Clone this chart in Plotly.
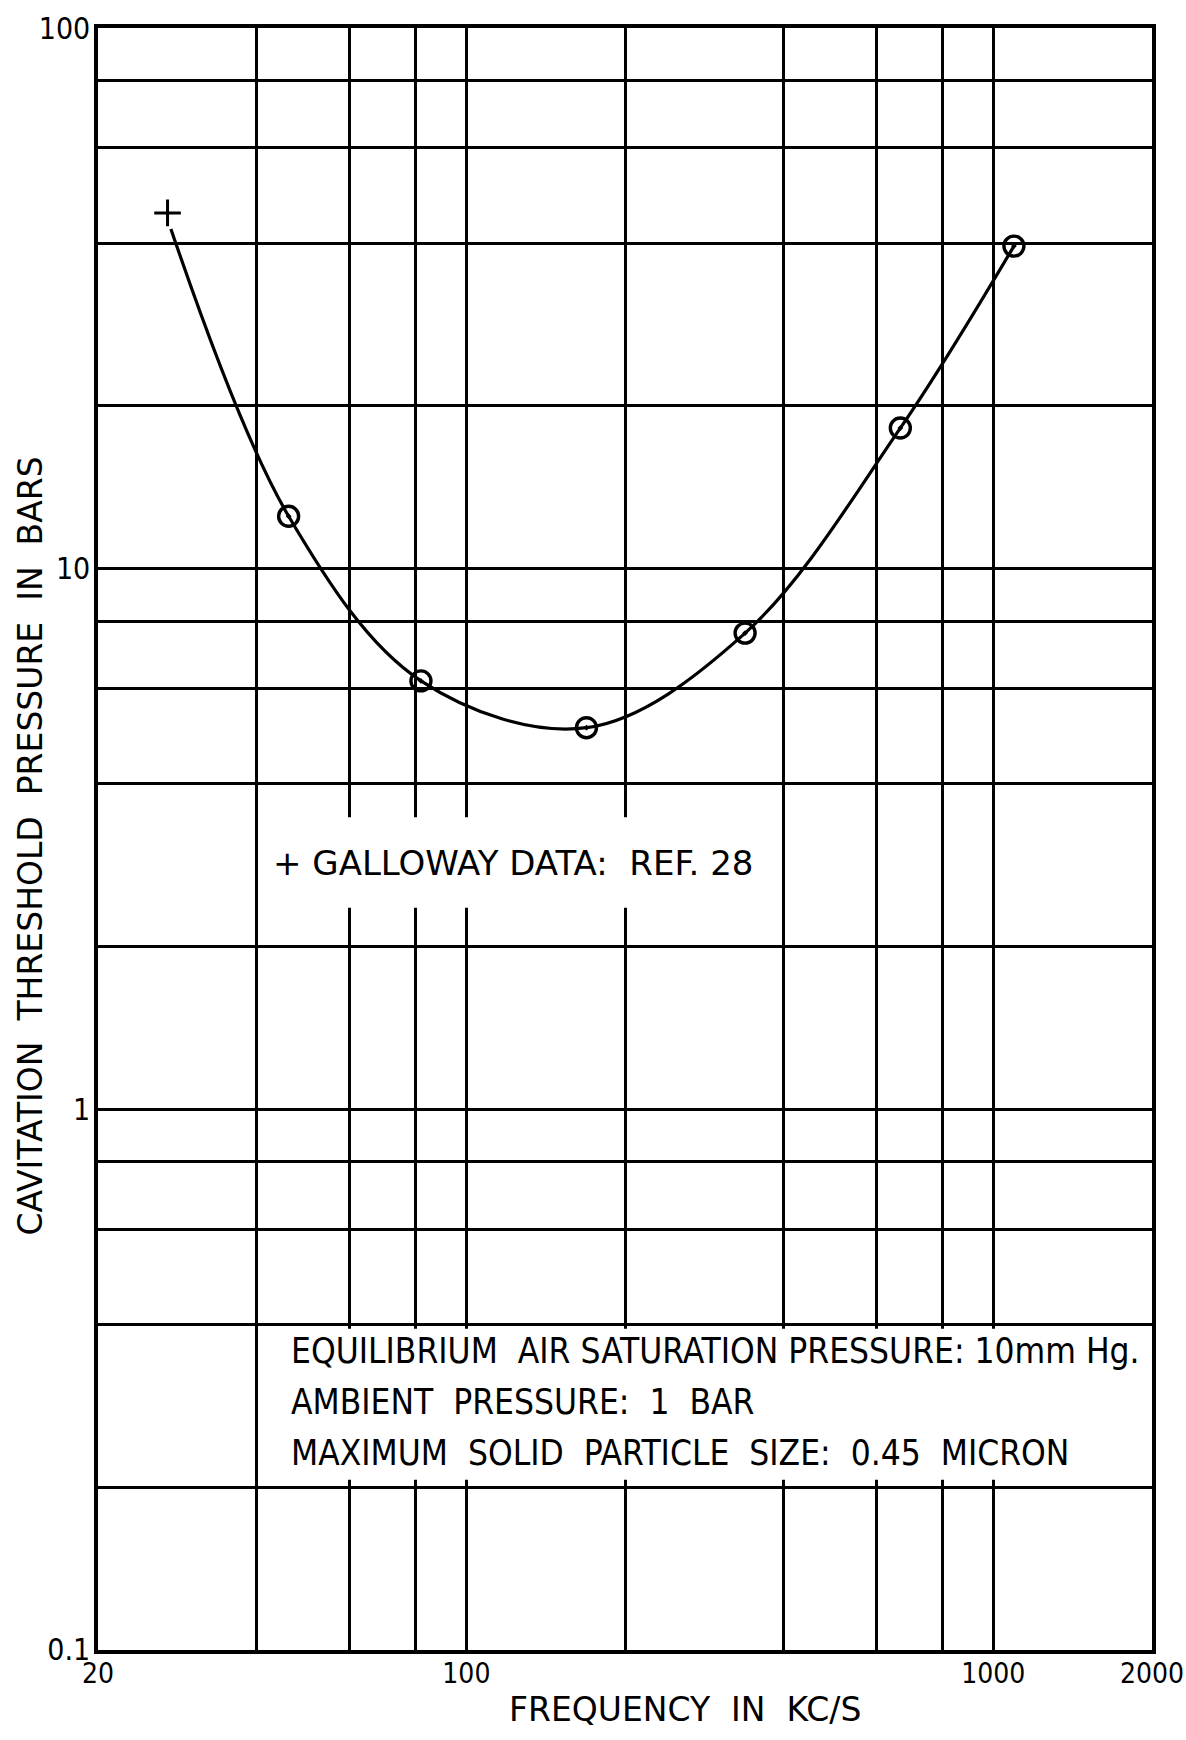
import math
import plotly.graph_objects as go

# ---- data ----
freq_points = [46, 82, 169, 338, 666, 1094]          # kc/s, circled points
pressure_points = [12.5, 6.2, 5.08, 7.6, 18.2, 39.5]  # bars

galloway_freq = [27.1]
galloway_pressure = [45.5]

curve_freq = [27.5, 46, 82, 169, 338, 666, 1094]
curve_pressure = [42.5, 12.5, 6.2, 5.08, 7.6, 18.2, 39.5]

x_tick_vals = [20, 100, 1000, 2000]
x_tick_text = ["20", "100", "1000", "2000"]
x_minor_grid = [40, 60, 80, 200, 400, 600, 800]

y_tick_vals = [0.1, 1, 10, 100]
y_tick_text = ["0.1", "1", "10", "100"]
y_minor_grid = [0.2, 0.4, 0.6, 0.8, 2, 4, 6, 8, 20, 40, 60, 80]

x_title = "FREQUENCY\u00a0 IN\u00a0 KC/S"
y_title = "CAVITATION\u00a0 THRESHOLD\u00a0 PRESSURE\u00a0 IN\u00a0 BARS"
galloway_label = "+ GALLOWAY DATA:\u00a0 REF. 28"
condition_lines = [
    "EQUILIBRIUM\u00a0 AIR SATURATION PRESSURE: 10mm Hg.",
    "AMBIENT\u00a0 PRESSURE:\u00a0 1\u00a0 BAR",
    "MAXIMUM\u00a0 SOLID\u00a0 PARTICLE\u00a0 SIZE:\u00a0 0.45\u00a0 MICRON",
]

NARROW = "Liberation Sans Narrow, DejaVu Sans Condensed, Arial Narrow, sans-serif"
WIDE = "DejaVu Sans, Verdana, sans-serif"

fig = go.Figure()

fig.add_trace(go.Scatter(
    x=curve_freq, y=curve_pressure, mode="lines",
    line=dict(color="black", width=3.2, shape="spline", smoothing=1.0),
    hoverinfo="skip", showlegend=False,
))
fig.add_trace(go.Scatter(
    x=freq_points, y=pressure_points, mode="markers",
    marker=dict(symbol="circle-open-dot", size=20, color="black",
                line=dict(color="black", width=3.4)),
    showlegend=False,
))
fig.add_trace(go.Scatter(
    x=galloway_freq, y=galloway_pressure, mode="markers",
    marker=dict(symbol="cross-thin-open", size=19, color="black",
                line=dict(color="black", width=3)),
    showlegend=False,
))

# white boxes that interrupt the vertical grid lines behind the notes
fig.add_shape(type="rect", xref="x", yref="y", x0=42, x1=368, y0=2.36, y1=3.47,
              fillcolor="white", line=dict(width=0), layer="between")
fig.add_shape(type="rect", xref="x", yref="y", x0=41.6, x1=1975, y0=0.2065, y1=0.393,
              fillcolor="white", line=dict(width=0), layer="between")

fig.add_annotation(xref="paper", yref="paper", x=0.164, y=0.485,
                   xanchor="left", yanchor="middle", showarrow=False,
                   text=galloway_label, font=dict(family=WIDE, size=34, color="black"))
for line, yp in zip(condition_lines, [0.1843, 0.1529, 0.1215]):
    fig.add_annotation(xref="paper", yref="paper", x=0.181, y=yp,
                       xanchor="left", yanchor="middle", showarrow=False,
                       text=line, font=dict(family=NARROW, size=35, color="black"))

# axis titles
fig.add_annotation(xref="paper", yref="paper", x=0.557, y=-0.0365,
                   xanchor="center", yanchor="middle", showarrow=False,
                   text=x_title, font=dict(family=WIDE, size=33, color="black"))
fig.add_annotation(xref="paper", yref="paper", x=-0.0640, y=0.4957,
                   xanchor="center", yanchor="middle", showarrow=False, textangle=-90,
                   text=y_title, font=dict(family=WIDE, size=33, color="black"))

GW = 2.7
fig.update_xaxes(
    type="log", range=[math.log10(20) - 1e-5, math.log10(2000) + 1e-5],
    tickmode="array", tickvals=x_tick_vals, ticktext=x_tick_text,
    ticks="", ticklabelstandoff=-4, ticklabeloverflow="allow",
    tickfont=dict(family=NARROW, size=28, color="black"),
    minor=dict(tickmode="array", tickvals=x_minor_grid, ticks="",
               showgrid=True, gridcolor="black", gridwidth=GW),
    showgrid=True, gridcolor="black", gridwidth=GW,
    showline=True, linecolor="black", linewidth=3.5, mirror=True,
    zeroline=False,
)
fig.update_yaxes(
    type="log", range=[-1 - 1e-5, 2 + 1e-5],
    tickmode="array", tickvals=y_tick_vals, ticktext=y_tick_text,
    ticks="", ticklabelstandoff=-2, ticklabeloverflow="allow",
    tickfont=dict(family=NARROW, size=30, color="black"),
    minor=dict(tickmode="array", tickvals=y_minor_grid, ticks="",
               showgrid=True, gridcolor="black", gridwidth=GW),
    showgrid=True, gridcolor="black", gridwidth=GW,
    showline=True, linecolor="black", linewidth=3.5, mirror=True,
    zeroline=False,
)

fig.update_layout(
    width=1186, height=1740,
    margin=dict(l=98, r=34, t=28, b=90, autoexpand=False),
    plot_bgcolor="white", paper_bgcolor="white",
    showlegend=False,
)

fig.write_html("out.html")
